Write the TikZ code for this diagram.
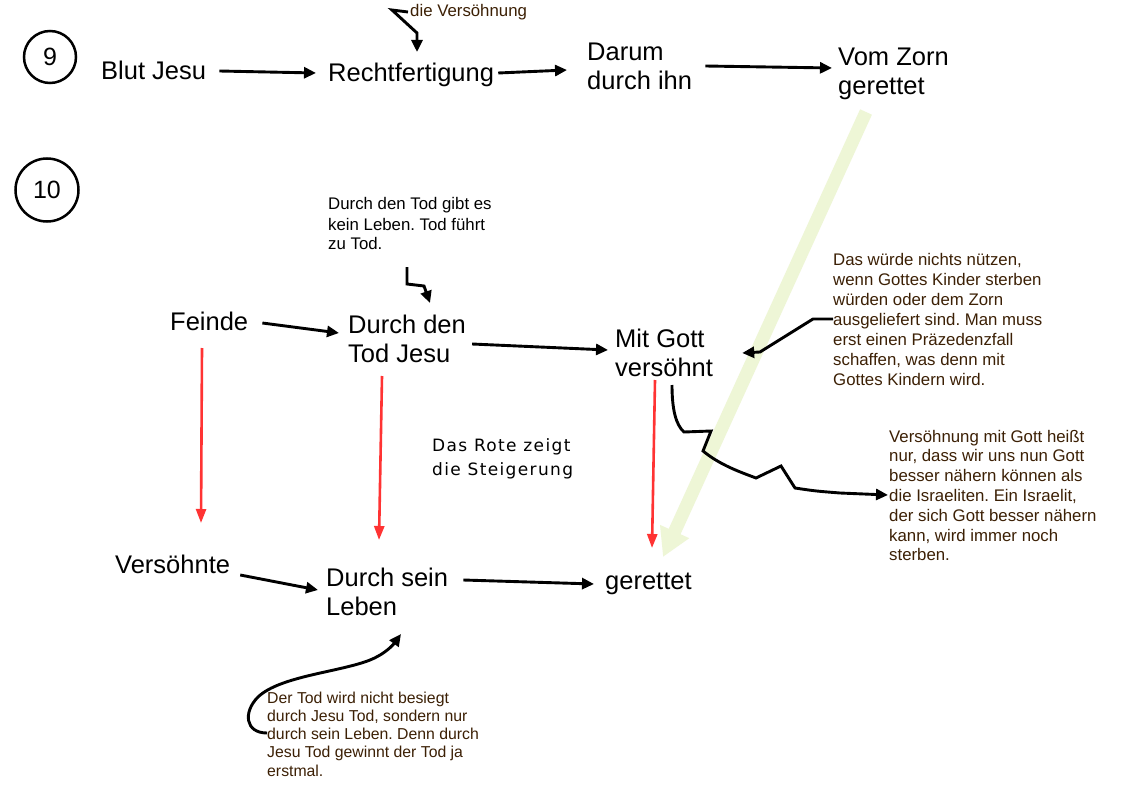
\documentclass[tikz,border=0pt]{standalone}
\usepackage{fontspec}
\setmainfont{Liberation Sans}
\newfontfamily\djv[LetterSpace=8]{DejaVu Sans}
\usetikzlibrary{arrows.meta,calc}
\frenchspacing
\definecolor{anno}{RGB}{60,32,5}
\definecolor{redarr}{RGB}{255,51,51}
\definecolor{greenarr}{RGB}{238,246,214}
\tikzset{
  big/.style={font=\fontsize{25.5}{29}\selectfont, inner sep=0pt, anchor=base west, align=left},
  small/.style={font=\fontsize{16.8}{20}\selectfont, inner sep=0pt, anchor=base west, align=left, text=anno},
  conn/.style={line width=2.9pt, -{Triangle[length=12pt,width=11pt]}},
  redconn/.style={line width=2.6pt, draw=redarr, -{Triangle[length=14pt,width=10pt]}, color=redarr},
  greenconn/.style={line width=13pt, draw=greenarr, color=greenarr, -{Triangle[length=28pt,width=30pt]}},
  numcirc/.style={draw, circle, line width=2.5pt, font=\fontsize{25}{28}\selectfont, inner sep=0pt}
}
\begin{document}
\begin{tikzpicture}[x=1pt,y=-1pt]
\useasboundingbox[fill=white] (0,0) rectangle (1123,794);

% numbers
\node[numcirc, minimum size=52pt] (n9) at (50,57) {9};
\node[numcirc, minimum size=63pt] (n10) at (47,190) {10};

% main labels (base = baseline of last line)
\node[big] (blut) at (101,80) {Blut Jesu};
\node[big] (recht) at (328,82) {Rechtfertigung};
\node[big] (darum) at (587,90) {Darum\\durch ihn};
\node[big] (zorn) at (838,95) {Vom Zorn\\gerettet};
\node[big] (feinde) at (170,330) {Feinde};
\node[big] (durchtod) at (348,362) {Durch den\\Tod Jesu};
\node[big] (mitgott) at (615,376) {Mit Gott\\versöhnt};
\node[big] (versoehnte) at (115,573) {Versöhnte};
\node[big] (durchsein) at (326,615) {Durch sein\\Leben};
\node[big] (gerettet) at (605,589) {gerettet};

% annotations
\node[small] (vers) at (410,17) {die Versöhnung};
\node[small, text=black] (tod1) at (328,250) {Durch den Tod gibt es\\kein Leben. Tod führt\\zu Tod.};
\node[small] (wuerde) at (833,385) {Das würde nichts nützen,\\wenn Gottes Kinder sterben\\würden oder dem Zorn\\ausgeliefert sind. Man muss\\erst einen Präzedenzfall\\schaffen, was denn mit\\Gottes Kindern wird.};
\node[small, font=\fontsize{16.8}{19.8}\selectfont] (israel) at (889,560.8) {Versöhnung mit Gott heißt\\nur, dass wir uns nun Gott\\besser nähern können als\\die Israeliten. Ein Israelit,\\der sich Gott besser nähern\\kann, wird immer noch\\sterben.};
\node[small, text=black, font=\djv\fontsize{17}{24}\selectfont] (rote) at (432,475) {Das Rote zeigt\\die Steigerung};
\node[small, font=\fontsize{15.8}{18.3}\selectfont] (tod2) at (267,776.2) {Der Tod wird nicht besiegt\\durch Jesu Tod, sondern nur\\durch sein Leben. Denn durch\\Jesu Tod gewinnt der Tod ja\\erstmal.};

% green arrow (behind)
\draw[greenconn] ($(zorn.base west)+(28,17)$) -- ($(gerettet.base west)+(58,-32)$);

% top row connectors
\draw[conn] ($(blut.base east)+(13,-9)$) -- ($(recht.base west)+(-12,-9)$);
\draw[conn] ($(recht.base east)+(4,-9)$) -- ($(darum.base west)+(-20,-20)$);
\draw[conn] ($(darum.base east)+(13,-24)$) -- ($(zorn.base west)+(-6,-27)$);
\draw[conn] ($(vers.base west)+(-2,-5)$) -- (392,10) -- (417,33) -- ($(recht.base west)+(89,-30)$);

% middle
\draw[conn] ($(tod1.base west)+(79,17)$) -- (407,284) -- (424,286) -- ($(durchtod.base west)+(82,-59)$);
\draw[conn] ($(feinde.base east)+(14,-7)$) -- ($(durchtod.base west)+(-9,-29)$);
\draw[conn] ($(durchtod.base east)+(6,-18)$) -- ($(mitgott.base west)+(-7,-26)$);
\draw[conn] ($(wuerde.base west)+(0,-66)$) -- (813,319) -- (760,352) -- ($(mitgott.base east)+(29,-23)$);
\draw[conn] ($(mitgott.base west)+(57,9)$) .. controls (672,410) and (676,425) .. (684,432)
  -- (711,431) -- (703,451) .. controls (720,465) and (740,472) .. (756,478)
  -- (781,466) -- (795,488) .. controls (815,491) .. (840,493) -- ($(israel.base west)+(-1,-65.8)$);

% bottom
\draw[conn] ($(versoehnte.base east)+(10,2)$) -- ($(durchsein.base west)+(-8,-25)$);
\draw[conn] ($(durchsein.base east)+(15,-35)$) -- ($(gerettet.base west)+(-11,-5)$);
\draw[conn] ($(tod2.base west)+(0,-43.2)$) .. controls (245,733) and (243,712) .. (258,697)
  .. controls (280,676) and (340,672) .. (370,660)
  .. controls (385,654) and (393,645) .. ($(durchsein.base west)+(75,19)$);

% red arrows
\draw[redconn] ($(feinde.base west)+(32,18)$) -- ($(versoehnte.base west)+(86,-50)$);
\draw[redconn] ($(durchtod.base west)+(34,14)$) -- ($(durchsein.base west)+(53,-75)$);
\draw[redconn] ($(mitgott.base west)+(40,4)$) -- ($(gerettet.base west)+(47,-41)$);
\end{tikzpicture}
\end{document}
